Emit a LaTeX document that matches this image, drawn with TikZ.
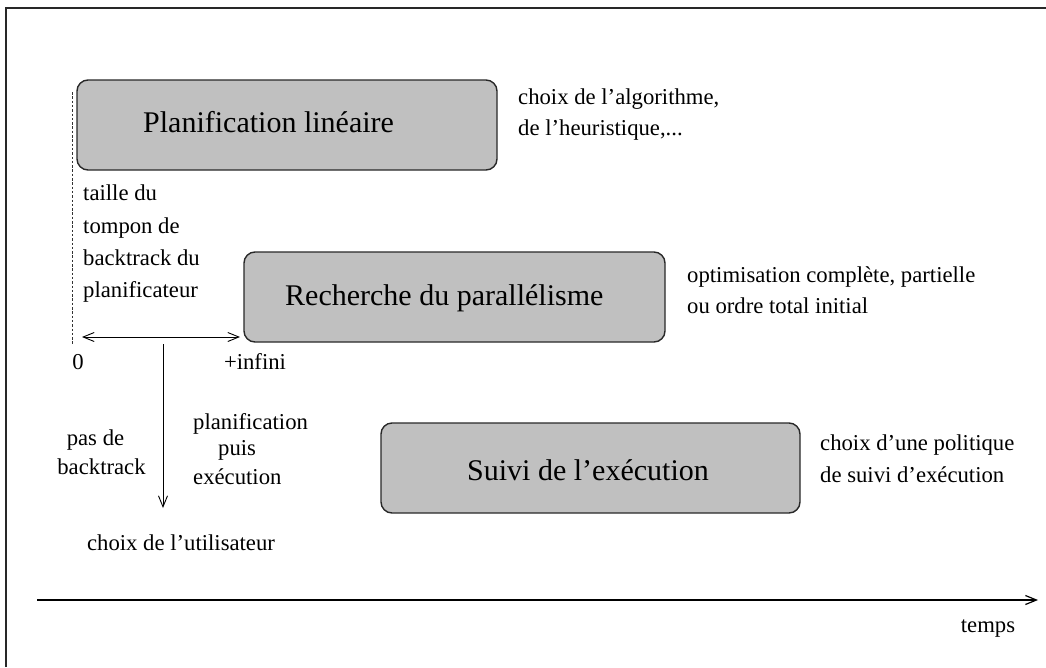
\documentclass[tikz,border=0pt]{standalone}
\usepackage{fontspec}
\setmainfont{Liberation Serif}
\usetikzlibrary{arrows.meta}
\definecolor{boxgray}{RGB}{192,192,192}
\definecolor{edge}{RGB}{40,40,40}
\begin{document}
\begin{tikzpicture}[x=1pt,y=-1pt,
  box/.style={draw=edge, line width=1.4pt, fill=boxgray, rounded corners=11pt, inner sep=0pt},
  big/.style={font=\fontsize{30}{36}\selectfont, inner sep=0pt, anchor=base west},
  small/.style={font=\fontsize{22.7}{27}\selectfont, inner sep=0pt, anchor=base west},
  smallc/.style={font=\fontsize{22.7}{27}\selectfont, inner sep=0pt, anchor=base},
  conn/.style={line width=0.9pt, draw=black, -{Straight Barb[length=11pt,width=9pt]}},
  frame/.style={line width=1.8pt, draw=edge},
]
\useasboundingbox (0,0) rectangle (1046,667);
% frame (top and left edges only)
\coordinate (fl) at (6,667);
\coordinate (fc) at (6,8);
\coordinate (fr) at (1046,8);
\draw[frame] (fl) -- (fc) -- (fr);

% boxes
\node[box, minimum width=420pt, minimum height=90pt] (b1) at (287,125) {};
\node[big] (b1t) at (143,132) {Planification linéaire};
\node[box, minimum width=421pt, minimum height=90pt] (b2) at (454.5,297) {};
\node[big] (b2t) at (285,305) {Recherche du parallélisme};
\node[box, minimum width=419pt, minimum height=90pt] (b3) at (590.5,468) {};
\node[big] (b3t) at (467,480) {Suivi de l'exécution};

% right-hand notes
\node[small] (n1a) at (518,104) {choix de l'algorithme,};
\node[small] (n1b) at (518,135) {de l'heuristique,...};
\node[small] (n2a) at (687,282) {optimisation complète, partielle};
\node[small] (n2b) at (687,313) {ou ordre total initial};
\node[small] (n3a) at (820,450) {choix d'une politique};
\node[small] (n3b) at (820,482) {de suivi d'exécution};

% backtrack buffer
\coordinate (dtop) at (72,92);
\coordinate (dbot) at (72,344);
\draw[line width=0.8pt, dash pattern=on 2.5pt off 1.8pt, draw=black!80] (dtop) -- (dbot);
\node[small] (t1) at (83,200) {taille du};
\node[small] (t2) at (83,233) {tompon de};
\node[small] (t3) at (83,265) {backtrack du};
\node[small] (t4) at (83,297) {planificateur};

\coordinate (hl) at (82,337);
\coordinate (hr) at (240,337);
\draw[conn, {Straight Barb[length=11pt,width=9pt]}-{Straight Barb[length=11pt,width=9pt]}] (hl) -- (hr);
\node[smallc] (zero) at (78,369) {0};
\node[smallc] (inf) at (255,369) {+infini};

\coordinate (vt) at (163,344);
\coordinate (vb) at (163,508);
\draw[conn] (vt) -- (vb);
\node[smallc] (p1) at (95.5,445) {pas de};
\node[smallc] (p2) at (101.5,474) {backtrack};
\node[small] (q1) at (193,429) {planification};
\node[small] (q2) at (218,455) {puis};
\node[small] (q3) at (193,484) {exécution};
\node[smallc] (user) at (181,550) {choix de l'utilisateur};

% time axis
\coordinate (ta) at (37,600);
\coordinate (tb) at (1038,600);
\draw[conn, line width=1.2pt] (ta) -- (tb);
\node[smallc] (temps) at (988,632) {temps};
\end{tikzpicture}
\end{document}
